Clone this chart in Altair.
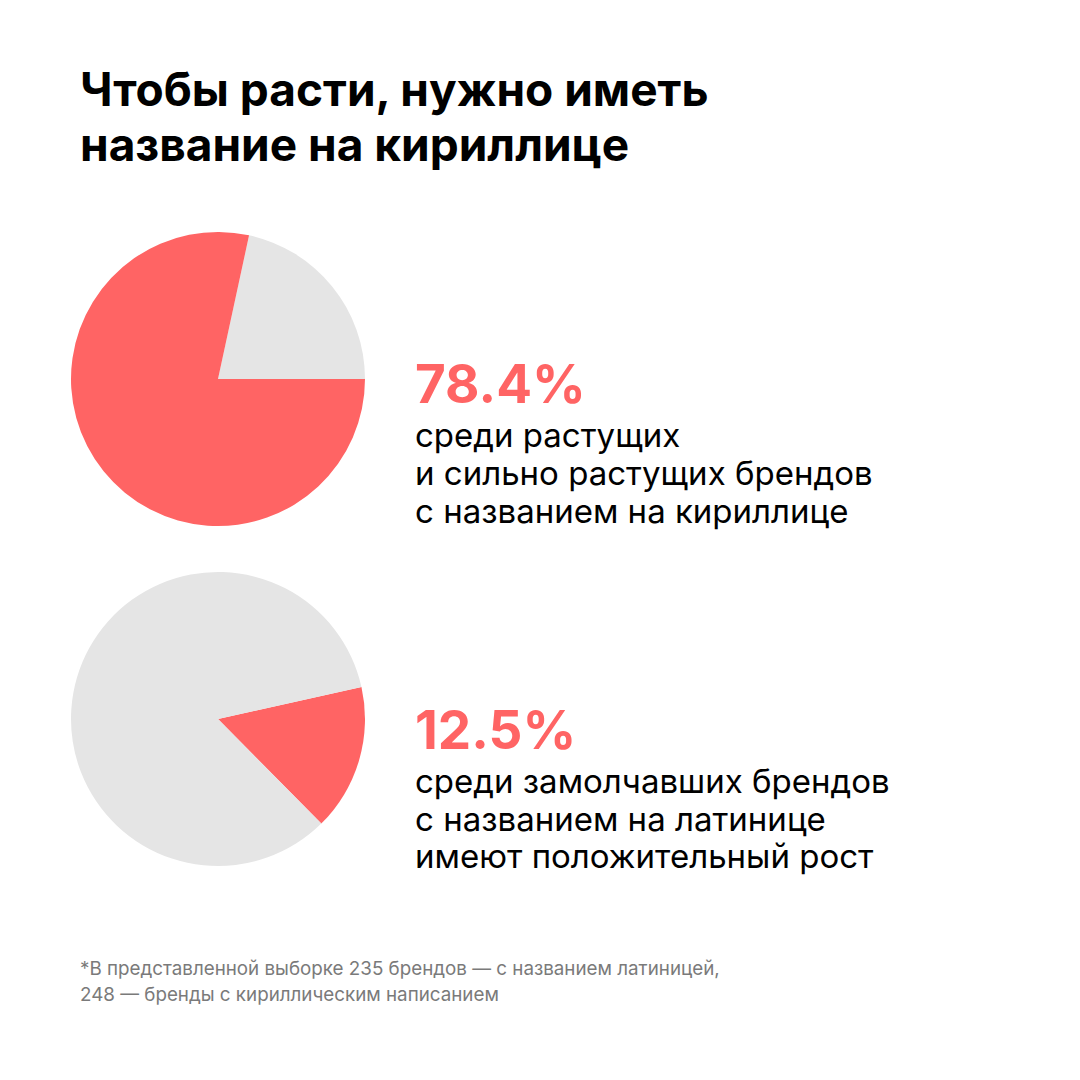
import math

import altair as alt
import pandas as pd

RED = "#FF6464"
GREY = "#E5E5E5"
FONT = "Inter"

title_lines = ["Чтобы расти, нужно иметь", "название на кириллице"]

# pie 1: share of brands with a cyrillic name among growing brands
pie1_kind = ["rest", "highlight"]
pie1_share = [21.6, 78.4]
pie1_start_deg = 12.2

# pie 2: slice as drawn in the picture
pie2_kind = ["highlight", "rest"]
pie2_share = [16.1, 83.9]
pie2_start_deg = 77.4

stat1_value = "78.4%"
stat1_lines = ["среди растущих", "и сильно растущих брендов", "с названием на кириллице"]
stat2_value = "12.5%"
stat2_lines = ["среди замолчавших брендов", "с названием на латинице", "имеют положительный рост"]
footnote_lines = [
    "*В представленной выборке 235 брендов — с названием латиницей,",
    "248 —  бренды с кириллическим написанием",
]

_COLOR = alt.Color(
    "kind:N",
    scale=alt.Scale(domain=["highlight", "rest"], range=[RED, GREY]),
    legend=None,
)


def pie(kind, share, start_deg, cx, cy):
    df = pd.DataFrame({"kind": kind, "share": share, "idx": list(range(len(kind)))})
    start = math.radians(start_deg)
    return (
        alt.Chart(df)
        .mark_arc(radius=147)
        .encode(
            theta=alt.Theta(
                "share:Q",
                stack=True,
                scale=alt.Scale(domain=[0, 100], range=[start, start + 2 * math.pi]),
            ),
            color=_COLOR,
            order=alt.Order("idx:Q"),
            x=alt.value(cx),
            y=alt.value(cy),
        )
    )


def text_block(lines, x, y0, line_h, size, weight="normal", color="#000000"):
    layers = []
    for i, line in enumerate(lines):
        layers.append(
            alt.Chart(pd.DataFrame({"t": [line]}))
            .mark_text(
                align="left",
                baseline="alphabetic",
                font=FONT,
                fontSize=size,
                fontWeight=weight,
                color=color,
            )
            .encode(x=alt.value(x), y=alt.value(y0 + i * line_h), text="t:N")
        )
    return layers


layers = [
    pie(pie1_kind, pie1_share, pie1_start_deg, 210, 371),
    pie(pie2_kind, pie2_share, pie2_start_deg, 210, 711),
]
layers += text_block(title_lines, 72, 98, 55, 46, weight="bold")
layers += text_block([stat1_value], 407, 395, 0, 53, weight="bold", color=RED)
layers += text_block(stat1_lines, 407, 439, 38, 33)
layers += text_block([stat2_value], 407, 741, 0, 53, weight="bold", color=RED)
layers += text_block(stat2_lines, 407, 785, 37.5, 33)
layers += text_block(footnote_lines, 72, 967, 26, 18.8, color="#7A7A7A")

chart = (
    alt.layer(*layers)
    .resolve_scale(theta="independent")
    .properties(
        width=1064,
        height=1064,
        padding=0,
        autosize=alt.AutoSizeParams(type="fit", contains="padding"),
        background="#FFFFFF",
    )
    .configure_view(stroke=None)
)

chart.save("out.html", embed_options={"renderer": "svg", "actions": False})
